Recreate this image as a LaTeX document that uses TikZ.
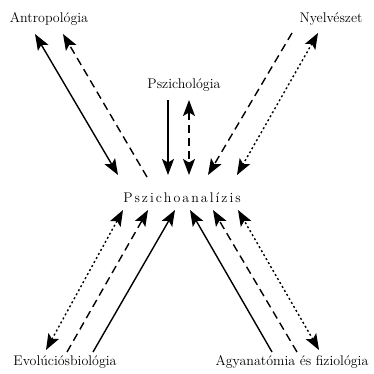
\documentclass[tikz,border=0pt]{standalone}
\usepackage{fontspec}
\usetikzlibrary{arrows.meta}
\begin{document}
\begin{tikzpicture}[x=1pt,y=-1pt,
  lbl/.style={font=\fontsize{14}{16}\selectfont, inner sep=0pt},
  con/.style={line width=1.4pt, >={Stealth[length=16pt,width=12pt,inset=3.5pt]}},
  dsh/.style={con, dash pattern=on 8pt off 5pt},
  dot/.style={con, dash pattern=on 2pt off 2.6pt}]
\useasboundingbox (0,0) rectangle (374,373);
\node[lbl] (antr) at (49,19) {Antropológia};
\node[lbl] (nyel) at (331,19) {Nyelvészet};
\node[lbl] (pszl) at (184,85) {Pszichológia};
\node[lbl] (psza) at (182,198) {P\kern2pt s\kern2pt z\kern2pt i\kern2pt c\kern2pt h\kern2pt o\kern2pt a\kern2pt n\kern2pt a\kern2pt l\kern2pt í\kern2pt z\kern2pt i\kern2pt s};
\node[lbl] (evol) at (65,362) {Evolúciósbiológia};
\node[lbl] (agya) at (292,362) {Agyanatómia és fiziológia};
% endpoints
\coordinate (a1) at (35,34);   \coordinate (a2) at (118,175);
\coordinate (a3) at (63,34);   \coordinate (a4) at (147,177);
\coordinate (p1) at (168,100); \coordinate (p2) at (168,175);
\coordinate (p3) at (189,100); \coordinate (p4) at (189,175);
\coordinate (n1) at (292,33);  \coordinate (n2) at (208,175);
\coordinate (n3) at (318,33);  \coordinate (n4) at (237,175);
\coordinate (e1) at (46,350);  \coordinate (e2) at (123,210);
\coordinate (e3) at (67,352);  \coordinate (e4) at (148,210);
\coordinate (e5) at (93,352);  \coordinate (e6) at (175,210);
\coordinate (g1) at (272,352); \coordinate (g2) at (190,210);
\coordinate (g3) at (297,352); \coordinate (g4) at (213,210);
\coordinate (g5) at (319,350); \coordinate (g6) at (238,210);
% connectors
\draw[con,<->] (a1) -- (a2);
\draw[dsh,->] (a4) -- (a3);
\draw[con,->] (p1) -- (p2);
\draw[dsh,<->] (p3) -- (p4);
\draw[dsh,->] (n1) -- (n2);
\draw[dot,<->] (n3) -- (n4);
\draw[dot,<->] (e1) -- (e2);
\draw[dsh,->] (e3) -- (e4);
\draw[con,->] (e5) -- (e6);
\draw[con,->] (g1) -- (g2);
\draw[dsh,->] (g3) -- (g4);
\draw[dot,<->] (g5) -- (g6);
\end{tikzpicture}
\end{document}
